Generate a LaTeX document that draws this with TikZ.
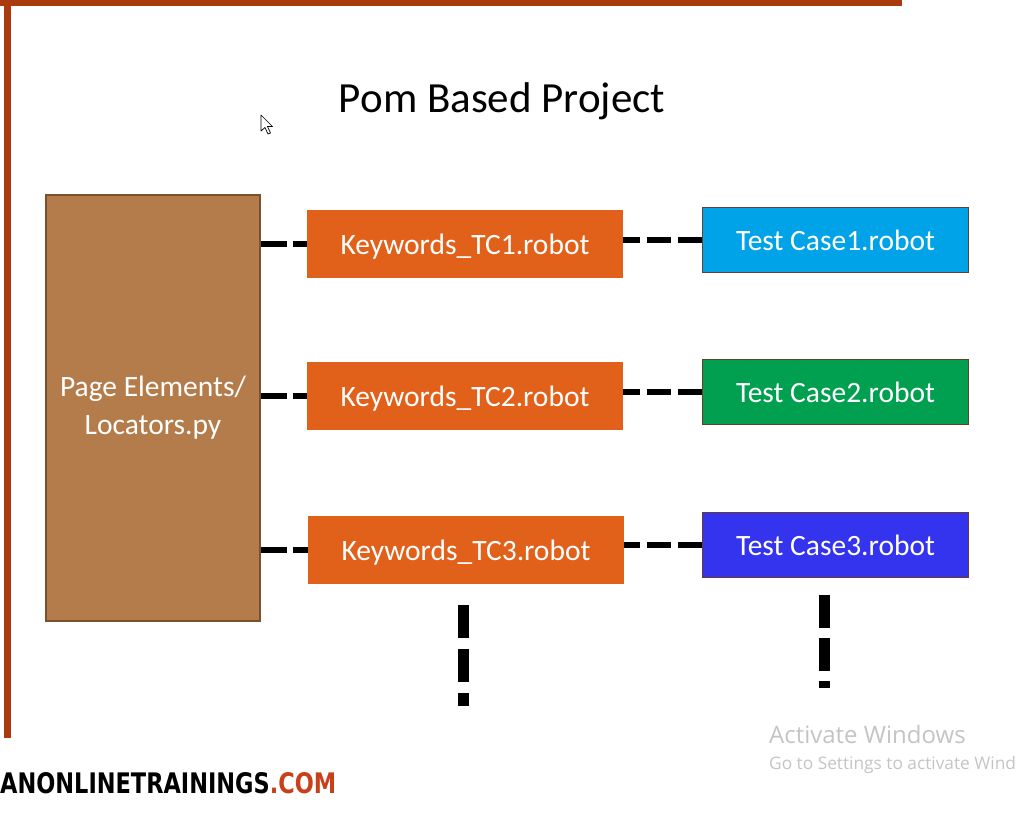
\documentclass[tikz,border=0pt]{standalone}
\usepackage{fontspec}
\setmainfont{Carlito}
\newfontfamily\winfont{Open Sans}
\newfontfamily\logofont{DejaVu Sans}
\definecolor{frame}{HTML}{A93B0E}
\definecolor{brownbox}{HTML}{B37C4A}
\definecolor{brownedge}{HTML}{7A5230}
\definecolor{orangebox}{HTML}{E2611A}
\definecolor{bluebox}{HTML}{00A2E8}
\definecolor{greenbox}{HTML}{00A050}
\definecolor{indigobox}{HTML}{3434EE}
\definecolor{caseedge}{HTML}{6A3A2C}
\definecolor{wingray}{HTML}{C4C4C4}
\definecolor{comred}{HTML}{C8401A}
\tikzset{
  x=1pt, y=-1pt,
  kwbox/.style={fill=orangebox, draw=none, minimum width=316pt, minimum height=68pt,
    inner sep=0pt, text=white, text height=22pt, text depth=2pt, font=\fontsize{29.5}{31}\selectfont},
  casebox/.style={draw=caseedge, line width=1.5pt, minimum width=266pt, minimum height=65pt,
    inner sep=0pt, text=white, text height=22pt, text depth=2pt, font=\fontsize{29.5}{31}\selectfont},
  hlink/.style={line width=6.5pt, dash pattern=on 26pt off 6pt},
  vlink/.style={line width=11pt, dash pattern=on 33pt off 11pt},
}
\begin{document}
\begin{tikzpicture}
\useasboundingbox (0,0) rectangle (1018,817);
% frame
\fill[frame] (0,0) rectangle (902,6);
\fill[frame] (4,0) rectangle (11,738);
% title
\node[font=\fontsize{43}{46}\selectfont, anchor=base] (title) at (502,112) {Pom Based Project};
% cursor
\draw[fill=white, line width=0.7pt, line join=round] (261,115) -- (261,131) -- (265,127.5) -- (268,134) -- (270.5,133) -- (267.5,126.5) -- (272.5,126.5) -- cycle;
% left box
\node[fill=brownbox, draw=brownedge, line width=1.2pt, minimum width=214pt, minimum height=426pt,
  inner sep=0pt, text=white, align=center, font=\fontsize{29.5}{38}\selectfont] (pe) at (153,408)
  {Page Elements/\\Locators.py};
% keyword boxes
\node[kwbox] (k1) at (465,244) {Keywords\_TC1.robot};
\node[kwbox] (k2) at (465,396) {Keywords\_TC2.robot};
\node[kwbox] (k3) at (466,550) {Keywords\_TC3.robot};
% test case boxes
\node[casebox, fill=bluebox] (t1) at (835.5,240) {Test Case1.robot};
\node[casebox, fill=greenbox] (t2) at (835.5,392) {Test Case2.robot};
\node[casebox, fill=indigobox] (t3) at (835.5,545) {Test Case3.robot};
% connectors
\draw[hlink] (pe.east |- k1.west) -- (k1.west);
\draw[hlink] (pe.east |- k2.west) -- (k2.west);
\draw[hlink] (pe.east |- k3.west) -- (k3.west);
\draw[hlink, dash pattern=on 24pt off 7pt] (t1.west) -- (k1.east |- t1.west);
\draw[hlink, dash pattern=on 24pt off 7pt] (t2.west) -- (k2.east |- t2.west);
\draw[hlink, dash pattern=on 24pt off 7pt] (t3.west) -- (k3.east |- t3.west);
% continuation dashes
\coordinate (ka) at (463.5,605);
\coordinate (kb) at (463.5,706);
\coordinate (ta) at (824,595);
\coordinate (tb) at (824,688);
\draw[vlink] (ka) -- (kb);
\draw[vlink, dash pattern=on 33pt off 10pt] (ta) -- (tb);
% watermark texts
\node[anchor=base west, inner sep=0pt, text=wingray, font=\winfont\fontsize{24}{26}\selectfont] (aw) at (769,743) {Activate Windows};
\node[anchor=base west, inner sep=0pt, text=wingray, font=\winfont\fontsize{17.3}{19}\selectfont] (gs) at (769,769) {Go to Settings to activate Wind};
\node[anchor=base west, inner sep=0pt] (logo) at (0,793)
  {\resizebox{336pt}{21pt}{\logofont\bfseries ANONLINETRAININGS\textcolor{comred}{.COM}}};
\end{tikzpicture}
\end{document}
